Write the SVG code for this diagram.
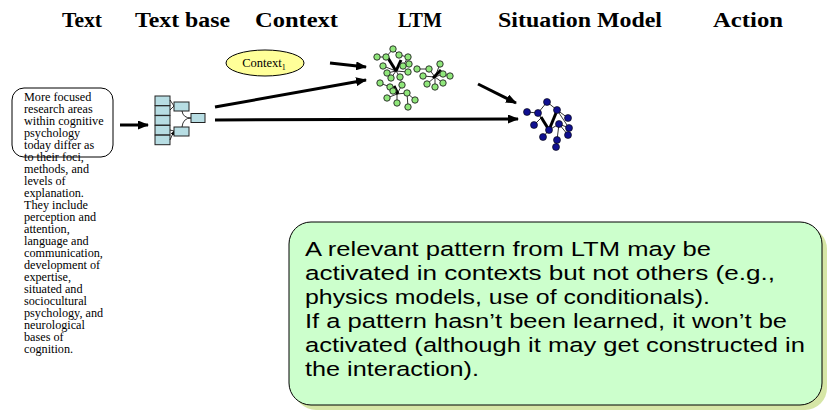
<svg xmlns="http://www.w3.org/2000/svg" width="830" height="418" viewBox="0 0 830 418">
<defs>
<style>
.hdr{font-family:"Liberation Serif","Times New Roman",serif;font-weight:bold;font-size:20px;fill:#000}
.small{font-family:"Liberation Serif","Times New Roman",serif;font-size:12.2px;fill:#000}
.note{font-family:"Liberation Sans",Arial,sans-serif;font-size:20.5px;fill:#000}
.arr{stroke:#000;stroke-width:3;fill:none;marker-end:url(#ah)}
.tb{fill:#b7dde3;stroke:#222;stroke-width:1}
.gl{stroke:#000;stroke-width:0.8}
.gt{stroke:#000;stroke-width:3}
.gn{fill:#8fe67a;stroke:#222;stroke-width:0.9}
.bn{fill:#101090;stroke:#000;stroke-width:0.6}
</style>
<marker id="ah" markerUnits="userSpaceOnUse" markerWidth="11" markerHeight="9" refX="10" refY="4.5" orient="auto">
<path d="M0,0 L11,4.5 L0,9 z" fill="#000"/>
</marker>
<marker id="sah" markerUnits="userSpaceOnUse" markerWidth="4" markerHeight="4" refX="4" refY="2" orient="auto">
<path d="M0,0 L4,2 L0,4 z" fill="#000"/>
</marker>
</defs>

<g id="headers">
<text class="hdr" x="62" y="27" textLength="40" lengthAdjust="spacingAndGlyphs">Text</text>
<text class="hdr" x="135" y="27" textLength="95" lengthAdjust="spacingAndGlyphs">Text base</text>
<text class="hdr" x="255" y="27" textLength="83" lengthAdjust="spacingAndGlyphs">Context</text>
<text class="hdr" x="398" y="27" textLength="44" lengthAdjust="spacingAndGlyphs">LTM</text>
<text class="hdr" x="498" y="27" textLength="164" lengthAdjust="spacingAndGlyphs">Situation Model</text>
<text class="hdr" x="713" y="27" textLength="70" lengthAdjust="spacingAndGlyphs">Action</text>
</g>

<g id="text-node">
<rect x="12" y="88" width="101" height="69" rx="12" ry="12" fill="#fff" stroke="#000" stroke-width="1"/>
<text class="small" x="24" y="101">More focused</text>
<text class="small" x="24" y="113">research areas</text>
<text class="small" x="24" y="125">within cognitive</text>
<text class="small" x="24" y="137">psychology</text>
<text class="small" x="24" y="149">today differ as</text>
<text class="small" x="24" y="161">to their foci,</text>
<text class="small" x="24" y="173">methods, and</text>
<text class="small" x="24" y="185">levels of</text>
<text class="small" x="24" y="197">explanation.</text>
<text class="small" x="24" y="209">They include</text>
<text class="small" x="24" y="221">perception and</text>
<text class="small" x="24" y="233">attention,</text>
<text class="small" x="24" y="245">language and</text>
<text class="small" x="24" y="257">communication,</text>
<text class="small" x="24" y="269">development of</text>
<text class="small" x="24" y="281">expertise,</text>
<text class="small" x="24" y="293">situated and</text>
<text class="small" x="24" y="305">sociocultural</text>
<text class="small" x="24" y="317">psychology, and</text>
<text class="small" x="24" y="329">neurological</text>
<text class="small" x="24" y="341">bases of</text>
<text class="small" x="24" y="353">cognition.</text>
</g>

<g id="textbase-node">
<rect class="tb" x="155" y="96" width="15" height="9.5"/>
<rect class="tb" x="155" y="105.8" width="15" height="9.5"/>
<rect class="tb" x="155" y="115.6" width="15" height="9.5"/>
<rect class="tb" x="155" y="125.4" width="15" height="9.5"/>
<rect class="tb" x="155" y="135.2" width="15" height="9.5"/>
<path d="M170,100 L174,106 M170,110 L174,106 M170,130 L174,131 M170,140 L174,131" stroke="#000" stroke-width="0.8" fill="none" marker-end="url(#sah)"/>
<rect class="tb" x="174" y="102" width="15" height="9"/>
<rect class="tb" x="174" y="127" width="15" height="9"/>
<path d="M182,111 Q183,118 191,118 M182,127 Q183,118 191,118" stroke="#000" stroke-width="0.8" fill="none"/>
<rect class="tb" x="191" y="113.5" width="14" height="9"/>
</g>

<g id="context-node">
<ellipse cx="265" cy="63" rx="39" ry="13" fill="#ffff99" stroke="#000" stroke-width="1"/>
<text x="264" y="67" text-anchor="middle" font-family="Liberation Serif, Times New Roman, serif" font-size="12.5">Context<tspan font-size="8" dy="3">1</tspan></text>
</g>

<g id="ltm-node">
<g class="gl">
<line x1="393" y1="49" x2="386" y2="57"/><line x1="393" y1="49" x2="399" y2="55"/>
<line x1="377" y1="57" x2="386" y2="57"/><line x1="386" y1="57" x2="396" y2="71"/>
<line x1="399" y1="55" x2="408" y2="57"/><line x1="383" y1="66" x2="396" y2="71"/>
<line x1="403" y1="66" x2="409" y2="64"/><line x1="387" y1="73" x2="396" y2="71"/>
<line x1="396" y1="71" x2="408" y2="72"/><line x1="396" y1="71" x2="391" y2="78"/>
<line x1="396" y1="71" x2="400" y2="77"/><line x1="408" y1="57" x2="403" y2="66"/>
<line x1="380" y1="83" x2="390" y2="87"/><line x1="390" y1="87" x2="397" y2="94"/>
<line x1="402" y1="85" x2="397" y2="94"/><line x1="393" y1="91" x2="397" y2="94"/>
<line x1="397" y1="94" x2="407" y2="93"/><line x1="407" y1="93" x2="415" y2="100"/>
<line x1="397" y1="94" x2="387" y2="98"/><line x1="397" y1="94" x2="397" y2="103"/>
<line x1="407" y1="93" x2="408" y2="107"/><line x1="400" y1="77" x2="402" y2="85"/>
<line x1="417" y1="69" x2="429" y2="69"/><line x1="429" y1="69" x2="435" y2="77"/>
<line x1="440" y1="64" x2="435" y2="77"/><line x1="423" y1="76" x2="435" y2="77"/>
<line x1="435" y1="77" x2="443" y2="74"/><line x1="443" y1="74" x2="450" y2="76"/>
<line x1="435" y1="77" x2="427" y2="84"/><line x1="435" y1="77" x2="435" y2="87"/>
<line x1="435" y1="77" x2="443" y2="83"/>
</g>
<g class="gt">
<line x1="388" y1="58" x2="396" y2="71"/><line x1="401" y1="60" x2="396" y2="71"/>
<line x1="394" y1="86" x2="398" y2="94"/>
<line x1="433" y1="78" x2="441" y2="70"/>
</g>
<g class="gn">
<circle cx="393" cy="49" r="3.2"/><circle cx="377" cy="57" r="3.2"/><circle cx="386" cy="57" r="3.2"/>
<circle cx="399" cy="55" r="3.2"/><circle cx="408" cy="57" r="3.2"/><circle cx="383" cy="66" r="3.2"/>
<circle cx="409" cy="64" r="3.2"/><circle cx="403" cy="66" r="3.2"/><circle cx="387" cy="73" r="3.2"/>
<circle cx="408" cy="72" r="3.2"/><circle cx="391" cy="78" r="3.2"/><circle cx="400" cy="77" r="3.2"/>
<circle cx="380" cy="83" r="3.2"/><circle cx="390" cy="87" r="3.2"/><circle cx="402" cy="85" r="3.2"/>
<circle cx="393" cy="91" r="3.2"/><circle cx="407" cy="93" r="3.2"/><circle cx="415" cy="100" r="3.2"/>
<circle cx="387" cy="98" r="3.2"/><circle cx="397" cy="103" r="3.2"/><circle cx="408" cy="107" r="3.2"/>
<circle cx="417" cy="69" r="3.2"/><circle cx="429" cy="69" r="3.2"/><circle cx="440" cy="64" r="3.2"/>
<circle cx="423" cy="76" r="3.2"/><circle cx="443" cy="74" r="3.2"/><circle cx="450" cy="76" r="3.2"/>
<circle cx="427" cy="84" r="3.2"/><circle cx="435" cy="87" r="3.2"/><circle cx="443" cy="83" r="3.2"/>
</g>
</g>

<g id="situation-model-node">
<g class="gl">
<line x1="547" y1="102" x2="538" y2="113"/><line x1="547" y1="102" x2="557" y2="110"/>
<line x1="527" y1="112" x2="538" y2="113"/><line x1="538" y1="113" x2="549" y2="130"/>
<line x1="557" y1="110" x2="568" y2="118"/><line x1="534" y1="125" x2="541" y2="118"/>
<line x1="559" y1="124" x2="569" y2="128"/><line x1="549" y1="130" x2="559" y2="124"/>
<line x1="549" y1="130" x2="543" y2="137"/><line x1="559" y1="124" x2="568" y2="135"/>
<line x1="559" y1="124" x2="557" y2="140"/><line x1="557" y1="140" x2="556" y2="146"/>
<line x1="557" y1="110" x2="569" y2="128"/>
</g>
<g class="gt">
<line x1="541" y1="117" x2="549" y2="130"/><line x1="556" y1="113" x2="549" y2="130"/>
</g>
<g class="bn">
<circle cx="547" cy="102" r="3.5"/><circle cx="527" cy="112" r="3.5"/><circle cx="538" cy="113" r="3.5"/>
<circle cx="557" cy="110" r="3.5"/><circle cx="568" cy="118" r="3.5"/><circle cx="534" cy="125" r="3.5"/>
<circle cx="569" cy="128" r="3.5"/><circle cx="559" cy="124" r="3.5"/><circle cx="549" cy="130" r="3.5"/>
<circle cx="543" cy="137" r="3.5"/><circle cx="568" cy="135" r="3.5"/><circle cx="557" cy="140" r="3.5"/>
<circle cx="556" cy="147" r="3.5"/>
</g>
</g>

<g id="note-node">
<rect x="294" y="227" width="533" height="183" rx="22" ry="22" fill="#d6e6a6"/>
<rect x="289" y="222" width="533" height="183" rx="22" ry="22" fill="#ccffcc" stroke="#000" stroke-width="1"/>
<text class="note" x="305" y="256" textLength="406" lengthAdjust="spacingAndGlyphs">A relevant pattern from LTM may be</text>
<text class="note" x="305" y="280" textLength="470" lengthAdjust="spacingAndGlyphs">activated in contexts but not others (e.g.,</text>
<text class="note" x="305" y="304" textLength="405" lengthAdjust="spacingAndGlyphs">physics models, use of conditionals).</text>
<text class="note" x="305" y="328" textLength="482" lengthAdjust="spacingAndGlyphs">If a pattern hasn’t been learned, it won’t be</text>
<text class="note" x="305" y="352" textLength="500" lengthAdjust="spacingAndGlyphs">activated (although it may get constructed in</text>
<text class="note" x="305" y="376" textLength="174" lengthAdjust="spacingAndGlyphs">the interaction).</text>
</g>

<g id="connectors">
<line class="arr" x1="120" y1="125" x2="148" y2="125"/>
<line class="arr" x1="330" y1="63" x2="366" y2="67"/>
<line class="arr" x1="215" y1="107" x2="366" y2="80"/>
<line class="arr" x1="215" y1="120" x2="518" y2="119"/>
<line class="arr" x1="478" y1="84" x2="516" y2="103"/>
</g>
</svg>
